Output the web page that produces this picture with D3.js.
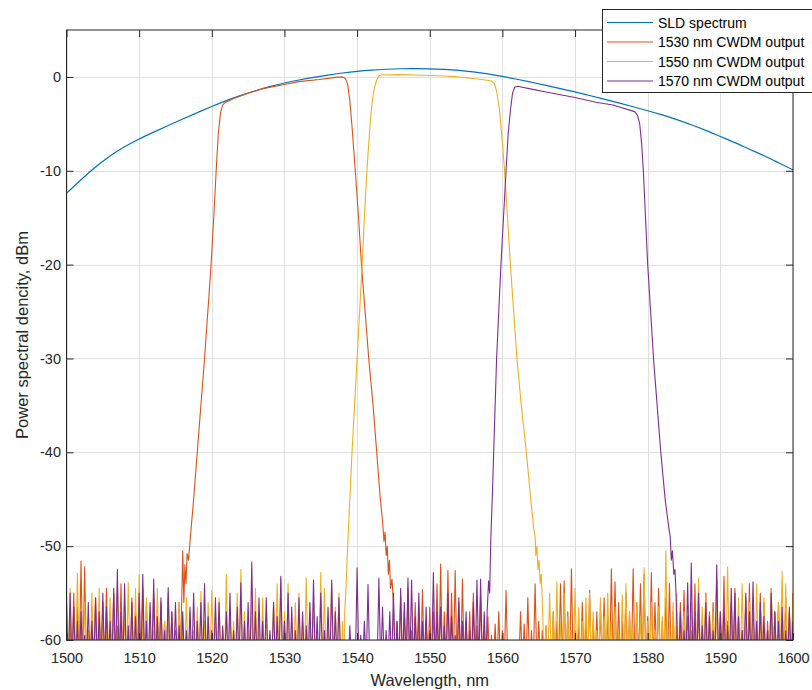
<!DOCTYPE html>
<html>
<head>
<meta charset="utf-8">
<script src="https://cdn.jsdelivr.net/npm/d3@7"></script>
<style>
  html, body { margin: 0; padding: 0; background: #fff; }
  svg { display: block; font-family: "Liberation Sans", Arial, Helvetica, sans-serif; }
</style>
</head>
<body>
<svg id="chart" width="812" height="690"></svg>
<script>
// ---------------- DATA ----------------
const xTicks = [1500, 1510, 1520, 1530, 1540, 1550, 1560, 1570, 1580, 1590, 1600];
const yTicks = [-60, -50, -40, -30, -20, -10, 0];
const seriesNames = ["SLD spectrum", "1530 nm CWDM output", "1550 nm CWDM output", "1570 nm CWDM output"];
const seriesColors = ["#0072BD", "#D95319", "#EDB120", "#7E2F8E"];

// SLD spectrum (wavelength nm, dBm)
const sldWl = [1500,1502,1504,1506,1508,1510,1512,1514,1516,1518,1520,1522,1524,1526,1528,1530,1532,1534,1536,1538,1540,1542,1544,1546,1548,1550,1552,1554,1556,1558,1560,1562,1564,1566,1568,1570,1572,1574,1576,1578,1580,1582,1584,1586,1588,1590,1592,1594,1596,1598,1600];
const sldDb = [-12.4,-10.95,-9.6,-8.42,-7.45,-6.62,-5.88,-5.17,-4.48,-3.81,-3.15,-2.53,-1.97,-1.47,-1.03,-0.65,-0.33,-0.05,0.2,0.42,0.6,0.73,0.82,0.87,0.88,0.86,0.8,0.7,0.54,0.32,0.05,-0.25,-0.57,-0.9,-1.25,-1.6,-1.98,-2.37,-2.77,-3.18,-3.6,-4.05,-4.55,-5.1,-5.7,-6.35,-7.0,-7.7,-8.4,-9.15,-9.9];

// Noise floor below the visible axis (spike bases)
const noiseFloor = -63;
const noiseStep = 0.5;

// 1530 nm channel
const ch1530NoiseStartA = 1500.0;
const ch1530NoiseA = [-57,-58,-55,-56.5,-51.6,-52.2,-59,-57.5,-55.5,-58,-56,-54.5,-57,-55,-58.5,-54,-56.5,-59,-55.5,-57,-58,-54.5,-56,-59.5,-55,-57.5,-56,-58,-55.5,-57,-59,-56];
const ch1530Band = [[1515.8,-58],[1516.0,-50.5],[1516.15,-56],[1516.3,-52],[1516.45,-54],[1516.6,-50.8],[1516.8,-51.5],[1517.0,-49.5],[1517.5,-45],[1518.0,-40],[1518.5,-35],[1519.0,-30],[1519.5,-24.5],[1519.9,-20],[1520.3,-14.5],[1520.6,-10],[1520.9,-6],[1521.2,-3.8],[1521.5,-3.0],[1521.8,-2.75],[1523,-2.3],[1525,-1.75],[1527,-1.25],[1530,-0.8],[1532,-0.5],[1534.8,-0.28],[1537,-0.05],[1538.0,0.0],[1538.4,-0.15],[1538.7,-0.8],[1539.0,-2.5],[1539.3,-5.3],[1539.75,-10],[1540.2,-15],[1540.6,-20],[1541.1,-25],[1541.6,-30],[1542.2,-35],[1542.7,-40],[1543.2,-45],[1543.5,-47.3],[1543.7,-49.5],[1543.85,-48.5],[1544.0,-51],[1544.15,-50],[1544.3,-53],[1544.45,-51.5],[1544.6,-54.5],[1544.8,-53.5]];
const ch1530NoiseStartB = 1545.0;
const ch1530NoiseB = [-56,-58,-55.5,-57,-54.5,-59,-56,-57.5,-54.6,-58,-56.5,-57,-54,-51.9,-57,-52.6,-55,-52.6,-56,-53.5,-58,-57,-55,-58.5,-55.5,-59,-57.5,-59.5,-58.3,-57,-59,-54.7,-61,-60.5,-61,-57,-58.3,-55.5,-59,-54,-58,-59,-58.5,-60,-57,-58,-54,-53.7,-57,-52.4,-59,-58.3,-56,-57.5,-54.7,-58,-57,-56.5,-55.5,-57.5,-52.4,-53.8,-56,-58,-55,-57,-52.4,-56,-54,-53,-57.5,-52.8,-56,-54.5,-58,-55.5,-54,-57,-58.5,-56,-54.7,-57.5,-59,-54,-56.5,-58,-55,-57,-56,-53.5,-57,-53.2,-58,-56,-54.5,-57.5,-59,-55.5,-54,-57,-58.5,-55,-56,-58,-54.5,-57,-56,-58.5,-55.5,-57,-55];

// 1550 nm channel
const ch1550NoiseStartA = 1500.0;
const ch1550NoiseA = [-55,-54.5,-57,-52.9,-58,-56,-59,-55,-57.5,-54.5,-56,-58.5,-55.5,-57,-54.5,-59,-56,-53.9,-57,-54.5,-53,-58,-55.5,-57,-59,-54.5,-56,-58,-55,-57.5,-59.5,-56,-58,-55.5,-57,-59,-56.5,-54.8,-58,-56,-54.7,-57.5,-55.5,-59,-53,-56.5,-58,-55,-52.5,-57,-59,-56,-54.5,-58,-55.5,-57,-59.5,-56,-54,-53.5,-57,-54,-58.5,-56,-55,-58,-53.4,-57,-56,-59,-52.8,-54.5,-57.5,-54,-56.5,-55,-58];
const ch1550Band = [[1538.3,-57],[1538.5,-54],[1538.7,-50],[1539.0,-45],[1539.3,-40],[1539.65,-35],[1540.0,-30],[1540.35,-25],[1540.7,-20],[1541.0,-15],[1541.35,-10],[1541.7,-6],[1541.95,-3.6],[1542.2,-2],[1542.4,-1.1],[1542.7,-0.3],[1543.0,0.1],[1543.3,0.2],[1545.8,0.25],[1548,0.2],[1550,0.15],[1552,0.1],[1554,0.0],[1556.85,-0.25],[1558.4,-0.4],[1558.9,-0.7],[1559.2,-1.5],[1559.6,-3.5],[1560.0,-7],[1560.3,-10],[1560.7,-15],[1561.1,-20],[1561.55,-25],[1562.0,-30],[1562.6,-35],[1563.3,-40],[1563.9,-45],[1564.3,-48],[1564.5,-49],[1564.6,-51],[1564.75,-50],[1564.9,-52.5],[1565.05,-51.5],[1565.2,-54],[1565.35,-53]];
const ch1550NoiseStartB = 1565.5;
const ch1550NoiseB = [-56,-58.5,-55,-57,-53.8,-58,-55,-57.5,-59,-54.5,-56.5,-58,-55.5,-55,-57,-59,-55.5,-57.5,-55,-58,-56.5,-59,-55.2,-54,-57,-58.5,-56,-57.5,-52.3,-58,-56,-59,-56.5,-57.5,-50.5,-58,-56,-55,-58.5,-57,-59,-56,-57.5,-53.4,-56.5,-55,-58,-57,-55.5,-58.5,-56,-52.2,-57,-59,-55.5,-54,-57.5,-56,-58,-54,-57,-55.5,-59,-54.5,-57,-56,-52.7,-54,-57.5,-55.5];

// 1570 nm channel
const ch1570NoiseStartA = 1500.0;
const ch1570NoiseA = [-56,-55,-56.5,-58,-57,-59.5,-56,-58,-55.5,-57,-55,-56.5,-58,-54.5,-52.5,-57,-54,-58.5,-56,-57.5,-55,-53,-58,-56,-53.5,-57.5,-55.5,-59,-54.4,-57,-56,-58.5,-57,-59,-56.5,-55,-58,-56,-54,-57.5,-59,-55.5,-56,-58.5,-57,-55,-59,-56.5,-53.9,-58,-56,-51.7,-57,-55.5,-58,-55.5,-59,-56,-57.5,-53.2,-58,-55,-56.5,-59,-55.5,-57,-58.5,-56,-53.6,-57.5,-55,-59,-56.5,-53.6,-57,-55.5,-60.5,-61,-58.5,-60,-52.3,-59.5,-58,-54.1,-60.5,-61,-53.4,-56.5,-59,-57,-55,-58,-54.5,-56,-53.4,-53.6,-57.5,-55,-58,-56.5,-59,-52.8,-57,-56.5,-58.5,-55,-57.5,-59.5,-55.5,-58,-57,-59,-56,-53.6,-53.5,-57];
const ch1570Band = [[1557.9,-57],[1558.1,-53.7],[1558.25,-55],[1558.4,-49.4],[1558.6,-45],[1558.8,-40],[1559.0,-35],[1559.2,-30],[1559.5,-25],[1559.8,-20],[1560.15,-15],[1560.5,-10],[1560.8,-6],[1561.1,-3.6],[1561.4,-1.7],[1561.7,-1.1],[1562.1,-1.0],[1564,-1.3],[1566,-1.6],[1568,-1.9],[1570,-2.2],[1572.9,-2.7],[1575.2,-3.0],[1578.2,-3.7],[1578.6,-4.1],[1578.9,-5.0],[1579.15,-7],[1579.4,-10],[1579.7,-15],[1580.0,-20],[1580.4,-25],[1580.8,-30],[1581.3,-35],[1581.8,-40],[1582.4,-45],[1582.9,-48],[1583.1,-49],[1583.25,-51.5],[1583.4,-50.5],[1583.6,-53],[1583.75,-52.5],[1583.9,-55]];
const ch1570NoiseStartB = 1584.0;
const ch1570NoiseB = [-58,-57,-59,-53.9,-51.8,-57,-55,-58.5,-56,-57.5,-59,-52,-57,-56,-58.5,-54.5,-55,-57.5,-59,-55,-57,-53.8,-58,-56,-57.5,-59,-55,-57,-58,-56.5,-59,-56.5,-58];

// ---------------- CHART ----------------
const svg = d3.select("#chart");
const W = 812, H = 690;
const plot = { left: 66.5, right: 793, top: 30, bottom: 640 };

const x = d3.scaleLinear().domain([1500, 1600]).range([plot.left, plot.right]);
const y = d3.scaleLinear().domain([-60, 5]).range([plot.bottom, plot.top]);

svg.append("rect").attr("width", W).attr("height", H).attr("fill", "#fff");

svg.append("defs").append("clipPath").attr("id", "clip")
  .append("rect")
  .attr("x", plot.left).attr("y", plot.top)
  .attr("width", plot.right - plot.left).attr("height", plot.bottom - plot.top);

// grid
const grid = svg.append("g").attr("stroke", "#dfdfdf").attr("stroke-width", 1);
grid.selectAll("line.gx").data(xTicks).enter().append("line")
  .attr("x1", d => Math.round(x(d)) + 0.5).attr("x2", d => Math.round(x(d)) + 0.5)
  .attr("y1", plot.top).attr("y2", plot.bottom);
grid.selectAll("line.gy").data(yTicks).enter().append("line")
  .attr("x1", plot.left).attr("x2", plot.right)
  .attr("y1", d => Math.round(y(d)) + 0.5).attr("y2", d => Math.round(y(d)) + 0.5);

// build series points
function noisePoints(start, peaks) {
  const pts = [];
  peaks.forEach((p, i) => {
    const wl = start + i * noiseStep;
    pts.push([wl, p]);
    pts.push([wl + noiseStep / 2, noiseFloor]);
  });
  return pts;
}
function channel(startA, noiseA, band, startB, noiseB) {
  return noisePoints(startA, noiseA).concat(band, noisePoints(startB, noiseB));
}

const sld = sldWl.map((w, i) => [w, sldDb[i]]);
const ch1530 = channel(ch1530NoiseStartA, ch1530NoiseA, ch1530Band, ch1530NoiseStartB, ch1530NoiseB);
const ch1550 = channel(ch1550NoiseStartA, ch1550NoiseA, ch1550Band, ch1550NoiseStartB, ch1550NoiseB);
const ch1570 = channel(ch1570NoiseStartA, ch1570NoiseA, ch1570Band, ch1570NoiseStartB, ch1570NoiseB);

const lineGen = d3.line().x(d => x(d[0])).y(d => y(d[1]));
const lineSmooth = d3.line().x(d => x(d[0])).y(d => y(d[1])).curve(d3.curveNatural);

const plotG = svg.append("g").attr("clip-path", "url(#clip)");
plotG.append("path").datum(sld).attr("d", lineSmooth)
  .attr("fill", "none").attr("stroke", seriesColors[0]).attr("stroke-width", 1.2);
[ch1530, ch1550, ch1570].forEach((s, i) => {
  plotG.append("path").datum(s).attr("d", lineGen)
    .attr("fill", "none").attr("stroke", seriesColors[i + 1])
    .attr("stroke-width", 1.1).attr("stroke-linejoin", "round");
});

// axes
const axisColor = "#262626";
const fmt = d => String(d);
function styleAxis(g, showText) {
  g.select(".domain").remove();
  g.selectAll(".tick line").attr("stroke", axisColor);
  g.selectAll(".tick text").attr("fill", axisColor).style("font-size", "14.5px")
    .style("display", showText ? null : "none");
}
svg.append("g").attr("transform", `translate(0,${plot.bottom})`)
  .call(d3.axisBottom(x).tickValues(xTicks).tickFormat(fmt).tickSizeInner(-7).tickSizeOuter(0).tickPadding(12.5))
  .call(g => styleAxis(g, true));
svg.append("g").attr("transform", `translate(0,${plot.top})`)
  .call(d3.axisTop(x).tickValues(xTicks).tickFormat(fmt).tickSizeInner(-7).tickSizeOuter(0))
  .call(g => styleAxis(g, false));
svg.append("g").attr("transform", `translate(${plot.left},0)`)
  .call(d3.axisLeft(y).tickValues(yTicks).tickFormat(fmt).tickSizeInner(-7).tickSizeOuter(0).tickPadding(5.5))
  .call(g => styleAxis(g, true));
svg.append("g").attr("transform", `translate(${plot.right},0)`)
  .call(d3.axisRight(y).tickValues(yTicks).tickFormat(fmt).tickSizeInner(-7).tickSizeOuter(0))
  .call(g => styleAxis(g, false));

// box
svg.append("rect")
  .attr("x", plot.left).attr("y", plot.top)
  .attr("width", plot.right - plot.left).attr("height", plot.bottom - plot.top)
  .attr("fill", "none").attr("stroke", axisColor).attr("stroke-width", 1);

// axis labels
svg.append("text")
  .attr("x", (plot.left + plot.right) / 2).attr("y", 686)
  .attr("text-anchor", "middle").attr("fill", axisColor).style("font-size", "16.5px")
  .text("Wavelength, nm");
svg.append("text")
  .attr("transform", `translate(28,${(plot.top + plot.bottom) / 2}) rotate(-90)`)
  .attr("text-anchor", "middle").attr("fill", axisColor).style("font-size", "16.5px")
  .text("Power spectral dencity, dBm");

// legend
const leg = svg.append("g");
leg.append("rect").attr("x", 602.5).attr("y", 9.5).attr("width", 215).attr("height", 83)
  .attr("fill", "#fff").attr("stroke", axisColor).attr("stroke-width", 1);
const legRows = [22.5, 42, 61.5, 81];
seriesNames.forEach((name, i) => {
  leg.append("line").attr("x1", 607).attr("x2", 653)
    .attr("y1", legRows[i]).attr("y2", legRows[i])
    .attr("stroke", seriesColors[i]).attr("stroke-width", 1.2);
  leg.append("text").attr("x", 658).attr("y", legRows[i] + 5)
    .attr("fill", "#000").style("font-size", "14px").text(name);
});
</script>
</body>
</html>
